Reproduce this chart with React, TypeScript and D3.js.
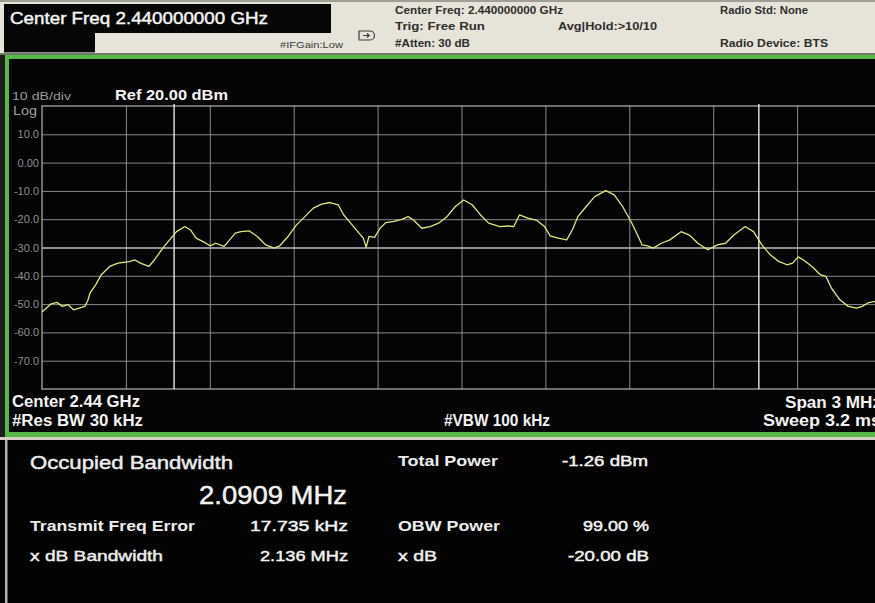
import React, { useEffect, useRef } from 'react';
import * as d3 from 'd3';

// trace: offset from 2.44 GHz in MHz, level in dBm
const traceFreqMHz = [
  -1.5, -1.467, -1.447, -1.427, -1.407, -1.387, -1.367, -1.347, -1.337, -1.328,
  -1.308, -1.288, -1.258, -1.228, -1.188, -1.168, -1.148, -1.118, -1.098, -1.068,
  -1.049, -1.019, -0.989, -0.969, -0.949, -0.919, -0.899, -0.879, -0.849, -0.829,
  -0.809, -0.789, -0.76, -0.73, -0.7, -0.67, -0.65, -0.62, -0.59, -0.56,
  -0.53, -0.5, -0.471, -0.441, -0.421, -0.391, -0.371, -0.351, -0.341, -0.331,
  -0.311, -0.291, -0.271, -0.241, -0.211, -0.191, -0.172, -0.142, -0.112, -0.082,
  -0.052, -0.022, 0.008, 0.038, 0.068, 0.097, 0.137, 0.167, 0.187, 0.207,
  0.237, 0.267, 0.297, 0.317, 0.346, 0.376, 0.396, 0.416, 0.446, 0.476,
  0.516, 0.546, 0.576, 0.606, 0.626, 0.646, 0.665, 0.685, 0.715, 0.745,
  0.785, 0.815, 0.845, 0.881, 0.915, 0.944, 0.974, 1.014, 1.044, 1.074,
  1.104, 1.134, 1.164, 1.184, 1.204, 1.224, 1.253, 1.283, 1.303, 1.323,
  1.353, 1.383, 1.413, 1.433, 1.453, 1.479, 1.5
];
const traceLevelDbm = [
  -52.8, -49.9, -49.4, -50.8, -50.2, -52.0, -51.4, -50.8, -49.0, -46.0,
  -43.2, -39.6, -36.7, -35.5, -35.0, -34.4, -35.5, -36.7, -34.4, -30.2,
  -27.9, -24.4, -22.6, -23.8, -26.7, -28.2, -29.4, -28.5, -29.6, -27.3,
  -24.9, -24.4, -24.1, -26.1, -29.1, -30.2, -29.4, -26.1, -22.0, -19.1,
  -16.1, -14.7, -14.1, -14.9, -18.5, -22.0, -24.4, -26.7, -29.9, -26.1,
  -26.4, -23.2, -21.2, -20.8, -20.0, -19.1, -20.3, -23.2, -22.6, -21.4,
  -19.1, -15.5, -13.2, -14.9, -18.5, -21.4, -22.6, -22.4, -22.6, -18.5,
  -19.6, -20.3, -22.6, -25.9, -26.7, -27.3, -23.8, -19.1, -15.5, -12.0,
  -9.9, -11.4, -15.5, -20.8, -24.9, -29.1, -29.4, -30.2, -28.5, -27.3,
  -24.4, -25.6, -28.5, -30.8, -29.1, -28.5, -25.6, -22.6, -24.4, -29.1,
  -32.6, -34.9, -36.1, -35.5, -33.3, -34.5, -36.7, -39.6, -40.2, -44.4,
  -48.5, -50.8, -51.4, -50.8, -49.6, -49.0, -49.5
];

const levelGrid = [10, 0, -10, -20, -30, -40, -50, -60, -70];
const levelLabels = ['10.0', '0.00', '-10.0', '-20.0', '-30.0', '-40.0', '-50.0', '-60.0', '-70.0'];
const freqGrid = [-1.2, -0.9, -0.6, -0.3, 0, 0.3, 0.6, 0.9, 1.2];

const obwCenterMHz = 0.017735;
const obwWidthMHz = 2.0909;
const xdbLevel = -30;

const measLeftNames = ['Transmit Freq Error', 'x dB Bandwidth'];
const measLeftValues = ['17.735 kHz', '2.136 MHz'];
const measRightNames = ['OBW Power', 'x dB'];
const measRightValues = ['99.00 %', '-20.00 dB'];

const font = 'Liberation Sans, Arial, sans-serif';

const margin = { top: 106, right: 881, bottom: 389, left: 42 };

type LabelProps = {
  x: number;
  y: number;
  w?: number;
  size: number;
  bold?: boolean;
  thick?: boolean;
  fill: string;
  anchor?: string;
  children: React.ReactNode;
};

const Label = ({ x, y, w, size, bold, thick, fill, anchor, children }: LabelProps) => (
  <text
    x={x}
    y={y}
    fontSize={size}
    fontFamily={font}
    fontWeight={bold ? 'bold' : 'normal'}
    fill={fill}
    stroke={thick ? fill : undefined}
    strokeWidth={thick ? 0.45 : undefined}
    textAnchor={anchor || 'start'}
    textLength={w}
    lengthAdjust={w ? 'spacingAndGlyphs' : undefined}
  >
    {children}
  </text>
);

const App = () => {
  const ref = useRef<SVGSVGElement>(null);

  useEffect(() => {
    const svg = d3.select(ref.current);

    const x = d3.scaleLinear().domain([-1.5, 1.5]).range([margin.left, margin.right]);
    const y = d3.scaleLinear().domain([-80, 20]).range([margin.bottom, margin.top]);

    const yAxis = (g: any) =>
      g
        .attr('transform', `translate(${margin.left},0)`)
        .call(
          d3
            .axisLeft(y)
            .tickValues(levelGrid)
            .tickFormat((d: any, i: number) => levelLabels[i])
            .tickSize(-(margin.right - margin.left))
            .tickPadding(3)
        )
        .call((g: any) => g.select('.domain').remove())
        .call((g: any) =>
          g
            .selectAll('.tick line')
            .attr('stroke', (d: number) => (d === xdbLevel ? '#bcbcbc' : '#8a8a8a'))
            .attr('stroke-width', (d: number) => (d === xdbLevel ? 1.6 : 1))
        )
        .call((g: any) =>
          g
            .selectAll('.tick text')
            .attr('fill', '#8e8e8e')
            .attr('font-size', 11)
            .attr('font-family', font)
        );

    const xAxis = (g: any) =>
      g
        .attr('transform', `translate(0,${margin.bottom})`)
        .call(
          d3
            .axisBottom(x)
            .tickValues(freqGrid)
            .tickFormat(() => '')
            .tickSize(-(margin.bottom - margin.top))
        )
        .call((g: any) => g.select('.domain').remove())
        .call((g: any) => g.selectAll('.tick line').attr('stroke', '#8a8a8a'));

    svg.select('.x-axis').call(xAxis);
    svg.select('.y-axis').call(yAxis);

    const plot = svg.select('.plot-area');
    plot.selectAll('*').remove();

    plot
      .append('rect')
      .attr('x', margin.left)
      .attr('y', margin.top)
      .attr('width', margin.right - margin.left)
      .attr('height', margin.bottom - margin.top)
      .attr('fill', 'none')
      .attr('stroke', '#a8a8a8')
      .attr('stroke-width', 1.3);

    // occupied bandwidth markers
    plot
      .selectAll('.obw')
      .data([obwCenterMHz - obwWidthMHz / 2, obwCenterMHz + obwWidthMHz / 2])
      .enter()
      .append('line')
      .attr('class', 'obw')
      .attr('x1', (d) => x(d))
      .attr('x2', (d) => x(d))
      .attr('y1', margin.top - 2)
      .attr('y2', margin.bottom)
      .attr('stroke', '#e6e6e6')
      .attr('stroke-width', 1.4);

    const line = d3
      .line<number>()
      .x((d, i) => x(traceFreqMHz[i]))
      .y((d) => y(d));

    plot
      .append('path')
      .datum(traceLevelDbm)
      .attr('d', line)
      .attr('fill', 'none')
      .attr('stroke', '#e3e57c')
      .attr('stroke-width', 1.3)
      .attr('stroke-linejoin', 'round');
  }, []);

  return (
    <svg
      ref={ref}
      width={875}
      height={603}
      style={{ position: 'absolute', left: 0, top: 0, background: '#000' }}
    >
      {/* header bar */}
      <rect x={0} y={0} width={875} height={55} fill="#e6e3d8" />
      <rect x={0} y={0} width={875} height={2} fill="#a19e95" />
      <rect x={4} y={4} width={327} height={29} fill="#060606" />
      <rect x={4} y={33} width={91} height={20} fill="#060606" />
      <rect x={4} y={52} width={91} height={1.5} fill="#8a8a86" />
      <Label x={10} y={24} w={258} size={17} thick fill="#f4f4f4">
        Center Freq 2.440000000 GHz
      </Label>
      <Label x={280} y={48} w={63} size={9} fill="#3a3a3a">
        #IFGain:Low
      </Label>
      <g fill="none" stroke="#3c3c3c" strokeWidth={1.2}>
        <path d="M359,31 h11 a4.5,4.5 0 0 1 0,9 h-11 z" />
        <path d="M363,35.5 h6 l-2,-2 m2,2 l-2,2" />
      </g>
      <Label x={395} y={14} w={168} size={10} bold fill="#2e2e2e">
        Center Freq: 2.440000000 GHz
      </Label>
      <Label x={395} y={30} w={90} size={10} bold fill="#2e2e2e">
        Trig: Free Run
      </Label>
      <Label x={395} y={47} w={75} size={10} bold fill="#2e2e2e">
        #Atten: 30 dB
      </Label>
      <Label x={558} y={30} w={99} size={10} bold fill="#2e2e2e">
        Avg|Hold:&gt;10/10
      </Label>
      <Label x={720} y={14} w={88} size={10} bold fill="#2e2e2e">
        Radio Std: None
      </Label>
      <Label x={720} y={47} w={108} size={10} bold fill="#2e2e2e">
        Radio Device: BTS
      </Label>

      {/* spectrum panel */}
      <rect x={0} y={53} width={875} height={2} fill="#6f7a68" />
      <rect x={0} y={55} width={875} height={4} fill="#56b847" />
      <rect x={0} y={59} width={875} height={374} fill="#040404" />
      <rect x={0} y={55} width={5} height={382} fill="#1d1d1d" />
      <rect x={5} y={55} width={4} height={382} fill="#56b847" />
      <rect x={5} y={432} width={870} height={5} fill="#56b847" />
      <rect x={0} y={437} width={875} height={3} fill="#d3cfc2" />

      <Label x={12} y={100} w={59} size={11} fill="#9a9a9a">
        10 dB/div
      </Label>
      <Label x={115} y={100} w={113} size={14} bold fill="#f2f2f2">
        Ref 20.00 dBm
      </Label>
      <Label x={13} y={115} w={24} size={12} fill="#a0a0a0">
        Log
      </Label>

      <g className="x-axis" />
      <g className="y-axis" />
      <g className="plot-area" />

      <Label x={12} y={407} w={128} size={16} bold fill="#f2f2f2">
        Center 2.44 GHz
      </Label>
      <Label x={12} y={426} w={131} size={16} bold fill="#f2f2f2">
        #Res BW 30 kHz
      </Label>
      <Label x={444} y={426} w={106} size={16} bold fill="#f2f2f2">
        #VBW 100 kHz
      </Label>
      <Label x={881} y={408} w={96} size={16} bold fill="#f2f2f2" anchor="end">
        Span 3 MHz
      </Label>
      <Label x={881} y={426} w={118} size={16} bold fill="#f2f2f2" anchor="end">
        Sweep 3.2 ms
      </Label>

      {/* measurement panel */}
      <rect x={0} y={440} width={875} height={163} fill="#030303" />
      <rect x={5} y={440} width={2.5} height={163} fill="#b0b0b0" />

      <Label x={30} y={469} w={203} size={19} thick fill="#ececec">
        Occupied Bandwidth
      </Label>
      <Label x={347} y={504} w={148} size={25} thick fill="#f2f2f2" anchor="end">
        2.0909 MHz
      </Label>
      <Label x={398} y={466} w={100} size={15} bold fill="#ececec">
        Total Power
      </Label>
      <Label x={648} y={466} w={86} size={15} thick fill="#f2f2f2" anchor="end">
        -1.26 dBm
      </Label>

      {measLeftNames.map((name, i) => (
        <g key={name}>
          <Label x={30} y={531 + i * 30} w={i === 0 ? 165 : 133} size={15} bold={i === 0} thick={i !== 0} fill="#ececec">
            {name}
          </Label>
          <Label x={348} y={531 + i * 30} w={i === 0 ? 98 : 88} size={15} thick fill="#f2f2f2" anchor="end">
            {measLeftValues[i]}
          </Label>
        </g>
      ))}
      {measRightNames.map((name, i) => (
        <g key={name}>
          <Label x={398} y={531 + i * 30} w={i === 0 ? 102 : 39} size={15} bold={i === 0} thick={i !== 0} fill="#ececec">
            {name}
          </Label>
          <Label x={649} y={531 + i * 30} w={i === 0 ? 66 : 81} size={15} thick fill="#f2f2f2" anchor="end">
            {measRightValues[i]}
          </Label>
        </g>
      ))}
    </svg>
  );
};

export default App;
